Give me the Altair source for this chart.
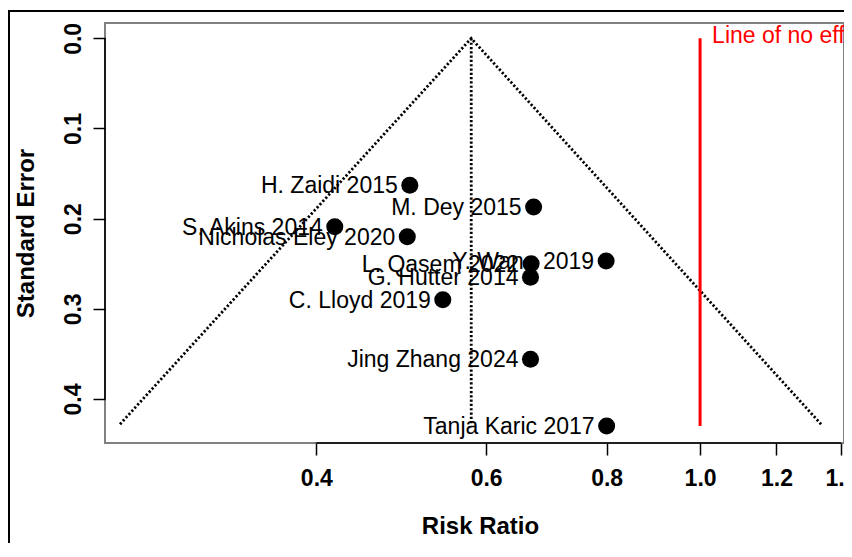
import altair as alt
import pandas as pd

# ---- data ----
studies = ["H. Zaidi 2015", "M. Dey 2015", "S. Akins 2014", "Nicholas Eley 2020",
           "Y. Wang 2019", "L. Qasem 2022", "G. Hutter 2014", "C. Lloyd 2019",
           "Jing Zhang 2024", "Tanja Karic 2017"]
risk_ratio = [0.500, 0.672, 0.418, 0.497, 0.799, 0.668, 0.667, 0.541, 0.667, 0.800]
std_error = [0.163, 0.187, 0.209, 0.220, 0.247, 0.250, 0.265, 0.290, 0.356, 0.430]

funnel_rr = [0.2503, 0.579, 1.335]
funnel_se = [0.428, 0.0, 0.428]
center_rr = [0.579, 0.579]
center_se = [0.0, 0.428]
null_rr = [1.0, 1.0]
null_se = [0.0, 0.430]
null_label = "Line of no effect"

x_ticks = [0.4, 0.6, 0.8, 1.0, 1.2, 1.4]
y_ticks = [0.0, 0.1, 0.2, 0.3, 0.4]
x_domain = [0.2415, 1.410]
y_domain = [-0.017, 0.4488]

W, H = 739, 420
FONT = "Liberation Sans"

xs = alt.Scale(type="log", domain=x_domain, nice=False, zero=False)
ys = alt.Scale(domain=y_domain, reverse=True, nice=False, zero=False)

pts = pd.DataFrame({"study": studies, "rr": risk_ratio, "se": std_error})
fun = pd.DataFrame({"rr": funnel_rr, "se": funnel_se, "o": list(range(len(funnel_rr)))})
cen = pd.DataFrame({"rr": center_rr, "se": center_se, "o": [0, 1]})
nul = pd.DataFrame({"rr": null_rr, "se": null_se, "o": [0, 1]})
lab = pd.DataFrame({"rr": [null_rr[0]], "se": [null_se[0]], "t": [null_label]})
xax = pd.DataFrame({"a": [min(x_ticks)], "b": [max(x_ticks)]})
yax = pd.DataFrame({"a": [min(y_ticks)], "b": [max(y_ticks)]})

x_enc = alt.X("rr:Q", scale=xs,
              axis=alt.Axis(values=x_ticks, format=".1f", title="Risk Ratio",
                            labelPadding=12, titleX=375, titleY=90,
                            titleBaseline="alphabetic"))
y_enc = alt.Y("se:Q", scale=ys,
              axis=alt.Axis(values=y_ticks, format=".1f", title="Standard Error",
                            labelAngle=270, labelAlign="center", labelBaseline="alphabetic",
                            labelPadding=13, titleX=-72, titleY=H / 2, titleAngle=270,
                            titleAlign="center", titleBaseline="alphabetic"))

dotted = dict(color="black", strokeWidth=2.8, strokeDash=[2.2, 2.1])
funnel = alt.Chart(fun).mark_line(**dotted).encode(x=x_enc, y=y_enc, order="o:Q")
center = alt.Chart(cen).mark_line(**dotted).encode(
    x=alt.X("rr:Q", scale=xs), y=alt.Y("se:Q", scale=ys), order="o:Q")
nullline = alt.Chart(nul).mark_line(color="#ff0000", strokeWidth=3).encode(
    x=alt.X("rr:Q", scale=xs), y=alt.Y("se:Q", scale=ys), order="o:Q")
nulltext = alt.Chart(lab).mark_text(align="left", baseline="alphabetic", dx=12, dy=5,
                                    font=FONT, fontSize=23, color="#ff0000").encode(
    x=alt.X("rr:Q", scale=xs), y=alt.Y("se:Q", scale=ys), text="t:N")
dots = alt.Chart(pts).mark_circle(color="black", opacity=1, size=290).encode(
    x=alt.X("rr:Q", scale=xs), y=alt.Y("se:Q", scale=ys))
labels = alt.Chart(pts).mark_text(align="right", baseline="alphabetic", dx=-12, dy=8,
                                  font=FONT, fontSize=23, color="black").encode(
    x=alt.X("rr:Q", scale=xs), y=alt.Y("se:Q", scale=ys), text="study:N")

xaxis_line = alt.Chart(xax).mark_rule(color="black", strokeWidth=1.6).encode(
    x=alt.X("a:Q", scale=xs), x2="b:Q", y=alt.value(H))
yaxis_line = alt.Chart(yax).mark_rule(color="black", strokeWidth=1.6).encode(
    y=alt.Y("a:Q", scale=ys), y2="b:Q", x=alt.value(0))

frame_top = alt.Chart(xax).mark_rule(color="black", strokeWidth=2).encode(
    x=alt.value(-97), x2=alt.value(W + 10), y=alt.value(-12))
frame_left = alt.Chart(xax).mark_rule(color="black", strokeWidth=2).encode(
    x=alt.value(-96), y=alt.value(-13), y2=alt.value(H + 110))

chart = alt.layer(
    funnel, center, nullline, nulltext, xaxis_line, yaxis_line, dots, labels,
    frame_top, frame_left
).properties(
    width=W, height=H,
    padding={"left": 97, "top": 15, "right": 0, "bottom": 100},
    autosize=alt.AutoSizeParams(type="none"),
).configure_view(
    stroke="#808080", strokeWidth=2
).configure_axis(
    grid=False, domain=False, tickColor="black", tickSize=12, tickWidth=1.5,
    labelFont=FONT, labelFontSize=23, labelFontWeight="bold", labelColor="black",
    titleFont=FONT, titleFontSize=24, titleFontWeight="bold", titleColor="black",
)

chart.save("out.html", embed_options={"renderer": "svg", "actions": False})
